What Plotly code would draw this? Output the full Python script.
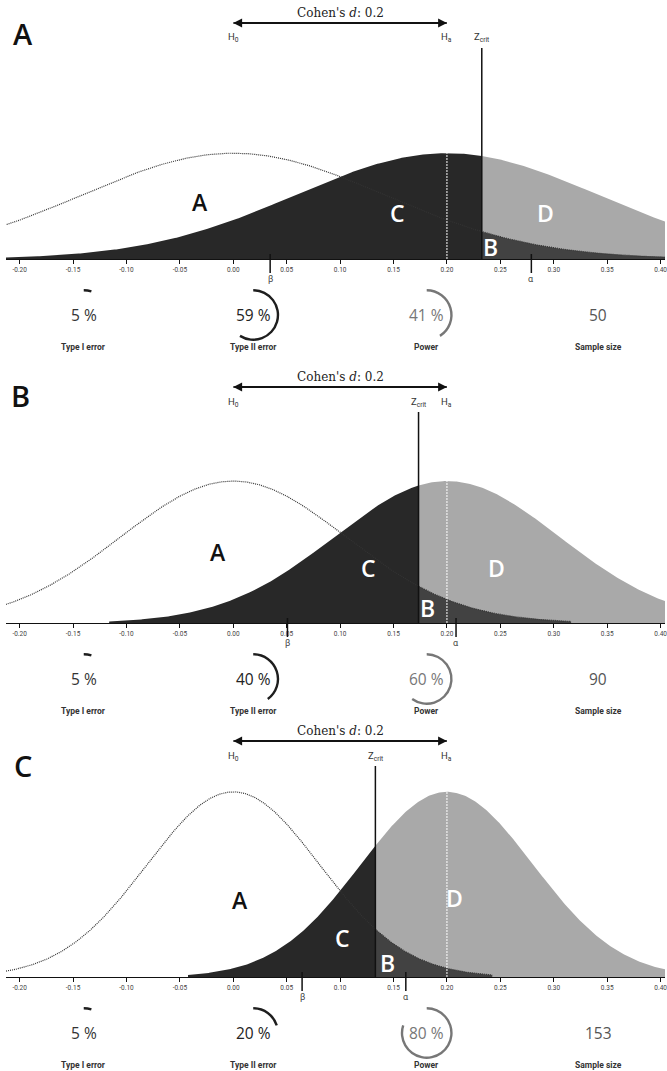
import numpy as np
import plotly.graph_objects as go

W, H = 667, 1071

# ---------------- data ----------------
panel_labels = ["A", "B", "C"]
cohens_d = 0.2
h0_mean = 0.0
sample_sizes = [50, 90, 153]
std_errors = [0.1414, 0.1054, 0.0808]
z_crit = [0.2326, 0.1734, 0.1330]
type1_error = [5, 5, 5]
type2_error = [59, 40, 20]
power = [41, 60, 80]
beta_marker = [0.0345, 0.0507, 0.0644]
alpha_marker = [0.2790, 0.2085, 0.1615]
tick_values = [-0.20, -0.15, -0.10, -0.05, 0.00, 0.05, 0.10, 0.15, 0.20, 0.25, 0.30, 0.35, 0.40]
tick_labels = ["-0.20", "-0.15", "-0.10", "-0.05", "0.00", "0.05", "0.10",
               "0.15", "0.20", "0.25", "0.30", "0.35", "0.40"]
stat_titles = ["Type I error", "Type II error", "Power", "Sample size"]
region_letters = ["A", "B", "C", "D"]

# ---------------- layout constants (pixels) ----------------
axis_px = [259, 623, 977]
panel_letter_px = [(23, 33), (21, 395), (23, 765)]
letter_xy = [
    {"A": (-0.031, 1.52), "B": (0.241, 0.32), "C": (0.154, 1.23), "D": (0.292, 1.23)},
    {"A": (-0.014, 1.89), "B": (0.182, 0.40), "C": (0.127, 1.47), "D": (0.246, 1.47)},
    {"A": (0.006, 2.05), "B": (0.144, 0.37), "C": (0.102, 1.04), "D": (0.207, 2.11)},
]
letter_color = {"A": "#111111", "B": "white", "C": "white", "D": "white"}
stat_x_px = [84, 254, 428, 600]
PX_PER_UNIT = 37.5
PLOT_H = 211
X0_PX, ZERO_PX, SCALE_X = 6, 234, 1071.5
x_range = [(X0_PX - ZERO_PX) / SCALE_X, (W - ZERO_PX) / SCALE_X]
ARC_R = 26

DARK = "#282828"
GRAY = "#a9a9a9"
BFILL = "#424242"


def px(x):
    return x / W


def py(y):
    return 1 - y / H


def pdf(x, mu, se):
    return np.exp(-0.5 * ((x - mu) / se) ** 2) / (se * np.sqrt(2 * np.pi))


fig = go.Figure()
annotations = []
shapes = []
layout_axes = {}

for i in range(3):
    s = "" if i == 0 else str(i + 1)
    xa, ya = "x" + s, "y" + s
    se, zc = std_errors[i], z_crit[i]
    mu_a = cohens_d
    ax_y = axis_px[i]

    layout_axes["xaxis" + s] = dict(
        domain=[px(X0_PX), 1], range=x_range, anchor=ya,
        showline=True, linecolor="#111", linewidth=1,
        ticks="outside", ticklen=4, tickwidth=1, tickcolor="#111",
        tickvals=tick_values, ticktext=tick_labels, ticklabeloverflow="allow",
        tickfont=dict(family="Roboto", size=6.5, color="#444"),
        showgrid=False, zeroline=False, fixedrange=True,
    )
    layout_axes["yaxis" + s] = dict(
        domain=[py(ax_y), py(ax_y - PLOT_H)], range=[0, PLOT_H / PX_PER_UNIT],
        anchor=xa, visible=False, showgrid=False, zeroline=False, fixedrange=True,
    )

    # alternative distribution: below z_crit (dark) and above (gray)
    xb = np.linspace(mu_a - 3 * se, zc, 300)
    fig.add_trace(go.Scatter(x=xb, y=pdf(xb, mu_a, se), xaxis=xa, yaxis=ya,
                             mode="lines", fill="tozeroy", fillcolor=DARK,
                             line=dict(width=0, color=DARK), hoverinfo="skip"))
    xu = np.linspace(zc, mu_a + 3 * se, 300)
    fig.add_trace(go.Scatter(x=xu, y=pdf(xu, mu_a, se), xaxis=xa, yaxis=ya,
                             mode="lines", fill="tozeroy", fillcolor=GRAY,
                             line=dict(width=0, color=GRAY), hoverinfo="skip"))
    # null distribution tail beyond z_crit (area B)
    xn = np.linspace(zc, h0_mean + 3 * se, 300)
    fig.add_trace(go.Scatter(x=xn, y=pdf(xn, h0_mean, se), xaxis=xa, yaxis=ya,
                             mode="lines", fill="tozeroy", fillcolor=BFILL,
                             line=dict(width=0, color=BFILL), hoverinfo="skip"))
    # null outline (dotted)
    xf = np.linspace(h0_mean - 3 * se, h0_mean + 3 * se, 600)
    fig.add_trace(go.Scatter(x=xf, y=pdf(xf, h0_mean, se), xaxis=xa, yaxis=ya,
                             mode="lines", line=dict(color="#333333", width=1.2, dash="1px,1px"),
                             hoverinfo="skip"))
    # white dotted line at H_a
    fig.add_trace(go.Scatter(x=[mu_a, mu_a], y=[0, pdf(mu_a, mu_a, se)], xaxis=xa, yaxis=ya,
                             mode="lines", line=dict(color="white", width=1, dash="2px,1px"),
                             hoverinfo="skip"))

    # z_crit line
    shapes.append(dict(type="line", xref=xa, yref=ya + " domain", x0=zc, x1=zc, y0=0, y1=1,
                       line=dict(color="#111", width=1.5)))
    # double arrow between H0 and Ha
    arrow_y = py(ax_y - 236)
    shapes.append(dict(type="line", xref=xa, yref="paper", x0=h0_mean, x1=cohens_d,
                       y0=arrow_y, y1=arrow_y, line=dict(color="#111", width=1.6)))
    for tip, tail in [(cohens_d, h0_mean), (h0_mean, cohens_d)]:
        annotations.append(dict(xref=xa, yref="paper", x=tip, y=arrow_y,
                                axref=xa, ax=tail, ayref="pixel", ay=0, text=" ",
                                showarrow=True, arrowhead=2, arrowsize=1.1,
                                arrowwidth=1.6, arrowcolor="#111", standoff=0,
                                font=dict(size=1)))
    # beta / alpha markers
    for val, sym in [(beta_marker[i], "β"), (alpha_marker[i], "α")]:
        shapes.append(dict(type="line", xref=xa, yref="paper", x0=val, x1=val,
                           y0=py(ax_y + 14), y1=py(ax_y - 5),
                           line=dict(color="#111", width=1.5)))
        annotations.append(dict(xref=xa, yref="paper", x=val, y=py(ax_y + 20), text=sym,
                                showarrow=False, font=dict(family="Roboto", size=9, color="#444"),
                                xanchor="center", yanchor="middle"))

    # Cohen's d text
    annotations.append(dict(xref=xa, yref="paper", x=(h0_mean + cohens_d) / 2, y=py(ax_y - 246),
                            text="Cohen's <i>d</i>: " + str(cohens_d), showarrow=False,
                            font=dict(family="DejaVu Serif", size=12, color="#222"),
                            xanchor="center", yanchor="middle"))
    for xv, txt in [(h0_mean, "H<sub>0</sub>"), (cohens_d, "H<sub>a</sub>"), (zc, "Z<sub>crit</sub>")]:
        annotations.append(dict(xref=xa, yref="paper", x=xv, y=py(ax_y - 221), text=txt,
                                showarrow=False, font=dict(family="Roboto", size=9.5, color="#333"),
                                xanchor="center", yanchor="middle"))

    # region letters
    for L in region_letters:
        lx, ly = letter_xy[i][L]
        annotations.append(dict(xref=xa, yref=ya, x=lx, y=ly, text=L, showarrow=False,
                                font=dict(family="Open Sans", size=23, color=letter_color[L], weight=600),
                                xanchor="center", yanchor="middle"))

    # panel letter
    plx, ply = panel_letter_px[i]
    annotations.append(dict(xref="paper", yref="paper", x=px(plx), y=py(ply), text=panel_labels[i],
                            showarrow=False, font=dict(family="Open Sans", size=29, color="#111", weight=600),
                            xanchor="center", yanchor="middle"))

    # statistics row
    num_y = ax_y + 56
    lab_y = ax_y + 88
    values_txt = [f"{type1_error[i]} %", f"{type2_error[i]} %", f"{power[i]} %", str(sample_sizes[i])]
    num_colors = ["#333", "#222", "#777", "#555"]
    for k in range(4):
        annotations.append(dict(xref="paper", yref="paper", x=px(stat_x_px[k]), y=py(num_y),
                                text=values_txt[k], showarrow=False,
                                font=dict(family="Open Sans", size=15.5, color=num_colors[k]),
                                xanchor="center", yanchor="middle"))
        annotations.append(dict(xref="paper", yref="paper", x=px(stat_x_px[k]), y=py(lab_y),
                                text="<b>" + stat_titles[k] + "</b>", showarrow=False,
                                font=dict(family="Roboto", size=8.5, color="#333"),
                                xanchor="center", yanchor="middle"))
    arc_vals = [type1_error[i], type2_error[i], power[i]]
    arc_cols = ["#1e1e1e", "#1e1e1e", "#777777"]
    for k in range(3):
        cx = stat_x_px[k]
        fig.add_trace(go.Pie(
            values=[arc_vals[k], 100 - arc_vals[k]], sort=False, direction="clockwise", rotation=0,
            hole=1 - 2.4 / ARC_R, textinfo="none", textposition="none",
            hoverinfo="skip", showlegend=False,
            marker=dict(colors=[arc_cols[k], "rgba(0,0,0,0)"], line=dict(width=0)),
            domain=dict(x=[px(cx - ARC_R), px(cx + ARC_R)], y=[py(num_y + ARC_R), py(num_y - ARC_R)]),
        ))

fig.update_layout(
    width=W, height=H, margin=dict(l=0, r=0, t=0, b=0),
    paper_bgcolor="white", plot_bgcolor="rgba(0,0,0,0)",
    showlegend=False, annotations=annotations, shapes=shapes,
    font=dict(family="Open Sans"),
    **layout_axes,
)

fig.write_html("out.html")
